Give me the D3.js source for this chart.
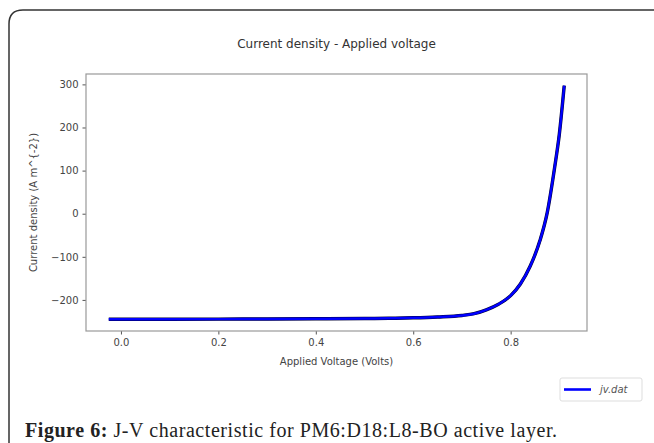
<!DOCTYPE html>
<html>
<head>
<meta charset="UTF-8">
<style>
  body { margin: 0; background: #fff; }
  svg { display: block; }
  text { font-family: "DejaVu Sans", sans-serif; }
</style>
</head>
<body>
<svg></svg>
<script src="https://d3js.org/d3.v7.min.js"></script>
<script>

let width = 654, height = 443;

// data
var voltage = [-0.025, 0.0, 0.1, 0.2, 0.3, 0.4, 0.5, 0.55, 0.6, 0.65, 0.7, 0.725, 0.75, 0.775, 0.8, 0.82, 0.84, 0.86, 0.875, 0.89, 0.9, 0.91];
var current = [-245, -245, -244.8, -244.5, -244.2, -243.8, -243.2, -242.6, -241.5, -239.5, -236, -232, -223, -210, -190, -163, -122, -63, 2, 105, 185, 297];
var xTicks = [0.0, 0.2, 0.4, 0.6, 0.8];
var yTicks = [-200, -100, 0, 100, 200, 300];
var seriesName = "jv.dat";

let plot = {left: 86, right: 587, top: 74, bottom: 331};

let svg = d3.select("svg")
    .attr("width", width)
    .attr("height", height);

// card frame
svg.append("path")
    .attr("d", "M9,443 L9,24 Q9,10 23,10 L654,10")
    .attr("fill", "none")
    .attr("stroke", "#333")
    .attr("stroke-width", 1.5);

var points = voltage.map((v, i) => ({v: v, j: current[i]}));

// matplotlib style 5% margins
var xExt = d3.extent(voltage), yExt = d3.extent(current);
var xPad = (xExt[1] - xExt[0]) * 0.05, yPad = (yExt[1] - yExt[0]) * 0.05;

let x = d3.scaleLinear()
    .domain([xExt[0] - xPad, xExt[1] + xPad])
    .range([plot.left, plot.right]);
let y = d3.scaleLinear()
    .domain([yExt[0] - yPad, yExt[1] + yPad])
    .range([plot.bottom, plot.top]);

//title
svg.append("text")
    .attr("x", (plot.left + plot.right) / 2)
    .attr("y", 48)
    .attr("text-anchor", "middle")
    .attr("font-size", 12)
    .attr("fill", "#333")
    .text("Current density - Applied voltage");

//axes
var xAxis = svg.append("g")
    .attr("transform", `translate(0,${plot.bottom})`)
    .call(d3.axisBottom(x).tickValues(xTicks).tickFormat(d3.format(".1f")).tickSize(3.5).tickPadding(4));
var yAxis = svg.append("g")
    .attr("transform", `translate(${plot.left},0)`)
    .call(d3.axisLeft(y).tickValues(yTicks).tickFormat(d => d < 0 ? "\u2212" + Math.abs(d) : d).tickSize(3.5).tickPadding(4));

[xAxis, yAxis].forEach(a => {
    a.select(".domain").remove();
    a.selectAll("line").attr("stroke", "#555");
    a.selectAll("text").attr("font-size", 10).attr("fill", "#444")
        .style("font-family", "DejaVu Sans, sans-serif");
});

// plot frame
svg.append("rect")
    .attr("x", plot.left)
    .attr("y", plot.top)
    .attr("width", plot.right - plot.left)
    .attr("height", plot.bottom - plot.top)
    .attr("fill", "none")
    .attr("stroke", "#999")
    .attr("stroke-width", 1.2);

//axis labels
svg.append("text")
    .attr("x", (plot.left + plot.right) / 2)
    .attr("y", 365)
    .attr("text-anchor", "middle")
    .attr("font-size", 10)
    .attr("fill", "#444")
    .text("Applied Voltage (Volts)");

svg.append("text")
    .attr("transform", `translate(37,${(plot.top + plot.bottom) / 2}) rotate(-90)`)
    .attr("text-anchor", "middle")
    .attr("font-size", 10)
    .attr("fill", "#444")
    .text("Current density (A m^{-2})");

//curve
var line = d3.line()
    .x(d => x(d.v))
    .y(d => y(d.j))
    .curve(d3.curveMonotoneX);

svg.append("path")
    .datum(points)
    .attr("d", line)
    .attr("fill", "none")
    .attr("stroke", "#000033")
    .attr("stroke-width", 3.4);
svg.append("path")
    .datum(points)
    .attr("d", line)
    .attr("fill", "none")
    .attr("stroke", "#0000ff")
    .attr("stroke-width", 2.4);

//legend
var lg = svg.append("g").attr("transform", "translate(560,378)");
lg.append("rect")
    .attr("width", 82)
    .attr("height", 23)
    .attr("rx", 2)
    .attr("fill", "#fff")
    .attr("stroke", "#ddd");
lg.append("line")
    .attr("x1", 4).attr("x2", 31)
    .attr("y1", 11.5).attr("y2", 11.5)
    .attr("stroke", "#0000ff")
    .attr("stroke-width", 2.6);
lg.append("text")
    .attr("x", 40)
    .attr("y", 15)
    .attr("font-size", 10)
    .attr("font-style", "italic")
    .attr("fill", "#555")
    .text(seriesName);

//caption
var cap = svg.append("text")
    .attr("x", 25)
    .attr("y", 437)
    .attr("font-size", 20)
    .attr("textLength", 532)
    .attr("lengthAdjust", "spacing")
    .style("font-family", "Liberation Serif, serif")
    .attr("fill", "#222");
cap.append("tspan").attr("font-weight", "bold").text("Figure 6:");
cap.append("tspan").text(" J-V characteristic for PM6:D18:L8-BO active layer.");

</script>
</body>
</html>
